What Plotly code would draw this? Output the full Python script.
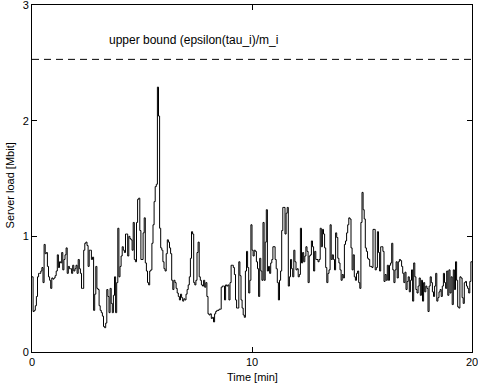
import plotly.graph_objects as go

# Server load sampled every 0.05 min (20 samples per minute), values in Mbit
load_min = [
    [0.65, 0.35, 0.36, 0.40, 0.48, 0.65, 0.68, 0.68, 0.70, 0.73, 0.60, 0.93, 0.85, 0.86, 0.74, 0.65, 0.62, 0.55, 0.64, 0.63],
    [0.64, 0.66, 0.70, 0.84, 0.73, 0.78, 0.77, 0.86, 0.71, 0.80, 0.84, 0.90, 0.68, 0.74, 0.72, 0.72, 0.68, 0.75, 0.70, 0.72],
    [0.75, 0.68, 0.80, 0.72, 0.68, 0.55, 0.55, 0.88, 0.94, 0.95, 0.92, 0.74, 0.88, 0.88, 0.80, 0.82, 0.36, 0.50, 0.74, 0.55],
    [0.54, 0.40, 0.36, 0.34, 0.31, 0.22, 0.21, 0.25, 0.54, 0.48, 0.34, 0.55, 0.42, 0.34, 0.49, 0.65, 0.34, 0.60, 1.07, 0.65],
    [0.74, 0.83, 0.91, 0.88, 0.86, 1.02, 1.02, 0.83, 1.00, 0.98, 0.97, 0.88, 1.12, 0.80, 0.78, 1.12, 1.32, 1.33, 1.05, 0.80],
    [0.80, 1.03, 1.16, 0.77, 0.70, 0.60, 0.58, 0.70, 0.71, 0.94, 1.10, 1.30, 1.43, 1.45, 2.29, 2.04, 1.07, 0.90, 0.88, 0.78],
    [0.72, 0.70, 0.85, 0.97, 0.95, 0.90, 0.85, 0.62, 0.54, 0.62, 0.60, 0.55, 0.51, 0.48, 0.45, 0.50, 0.47, 0.44, 0.46, 0.45],
    [0.50, 0.54, 0.58, 0.65, 0.81, 1.04, 1.02, 0.60, 0.58, 0.62, 0.86, 0.95, 0.65, 0.62, 0.58, 0.57, 0.62, 0.56, 0.60, 0.48],
    [0.33, 0.32, 0.33, 0.29, 0.30, 0.26, 0.33, 0.35, 0.36, 0.36, 0.37, 0.37, 0.56, 0.57, 0.57, 0.45, 0.58, 0.57, 0.58, 0.45],
    [0.60, 0.75, 0.75, 0.73, 0.67, 0.45, 0.38, 0.38, 0.78, 0.66, 0.45, 0.38, 0.32, 0.30, 0.70, 0.87, 0.73, 0.51, 0.62, 1.10],
    [0.88, 0.83, 0.88, 0.87, 0.78, 0.72, 0.48, 0.81, 0.70, 0.62, 1.12, 0.62, 0.95, 1.23, 0.70, 0.74, 0.68, 0.77, 0.80, 0.91],
    [0.91, 0.80, 0.72, 0.60, 0.45, 0.62, 0.70, 1.05, 1.25, 1.25, 1.02, 1.20, 1.25, 0.57, 0.65, 0.80, 0.72, 0.65, 0.88, 0.78],
    [0.71, 0.72, 0.65, 0.67, 1.07, 0.77, 0.86, 0.78, 0.83, 0.91, 0.87, 0.60, 0.83, 0.84, 0.96, 0.91, 0.70, 0.87, 0.80, 0.80],
    [0.78, 0.80, 1.07, 0.91, 1.06, 1.02, 0.90, 0.73, 0.60, 0.68, 0.71, 1.10, 0.80, 0.84, 0.80, 0.71, 1.03, 0.99, 0.81, 0.77],
    [0.71, 0.62, 0.67, 0.64, 0.93, 0.96, 1.03, 1.10, 1.16, 1.15, 0.90, 0.71, 0.84, 0.65, 0.62, 0.68, 0.70, 0.60, 0.55, 1.12],
    [1.38, 1.23, 1.15, 0.90, 0.87, 0.81, 0.80, 0.74, 0.74, 0.73, 1.06, 1.06, 0.71, 0.73, 1.04, 0.86, 0.70, 0.91, 0.91, 0.87],
    [0.61, 0.67, 0.62, 0.75, 0.62, 0.75, 0.77, 0.94, 0.71, 0.60, 0.71, 0.78, 0.64, 0.78, 0.80, 0.79, 0.74, 0.68, 0.60, 0.69],
    [0.54, 0.61, 0.65, 0.52, 0.62, 0.71, 0.44, 0.77, 0.65, 0.54, 0.51, 0.57, 0.64, 0.49, 0.62, 0.44, 0.60, 0.52, 0.57, 0.55],
    [0.35, 0.57, 0.65, 0.60, 0.52, 0.48, 0.57, 0.68, 0.44, 0.47, 0.52, 0.54, 0.48, 0.57, 0.68, 0.60, 0.55, 0.70, 0.49, 0.71],
    [0.51, 0.65, 0.41, 0.71, 0.54, 0.78, 0.62, 0.39, 0.38, 0.65, 0.64, 0.47, 0.42, 0.60, 0.61, 0.57, 0.55, 0.51, 0.61, 0.78],
]
sample_step = 0.05
bound_value = 2.53
bound_x = [0, 20]
bound_label = "upper bound (epsilon(tau_i)/m_i"
x_title = "Time [min]"
y_title = "Server load [Mbit]"
x_ticks = [0, 10, 20]
y_ticks = [0, 1, 2, 3]

load = [v for row in load_min for v in row]
load.append(load[-1])
time = [i * sample_step for i in range(len(load))]

fig = go.Figure()
fig.add_trace(go.Scatter(x=time, y=load, mode="lines", line=dict(color="black", width=1, shape="hv"),
                         showlegend=False, hoverinfo="skip"))
fig.add_trace(go.Scatter(x=bound_x, y=[bound_value, bound_value], mode="lines",
                         line=dict(color="black", width=1, dash="7px,5px"), showlegend=False))
fig.add_annotation(x=3.4, y=2.70, text=bound_label, showarrow=False, xanchor="left", yanchor="middle",
                   font=dict(size=12, color="black"))
# axis titles placed as paper-referenced annotations
fig.add_annotation(xref="paper", yref="paper", x=0.5, y=-0.072, text=x_title, showarrow=False,
                   xanchor="center", yanchor="middle", font=dict(size=11, color="black"))
fig.add_annotation(xref="paper", yref="paper", x=-0.05, y=0.48, text=y_title, showarrow=False,
                   textangle=-90, xanchor="center", yanchor="middle", font=dict(size=11, color="black"))

axis_common = dict(showgrid=False, zeroline=False, showline=True, linecolor="black", linewidth=1,
                   mirror="ticks", ticks="inside", ticklen=5, tickcolor="black", tickwidth=1,
                   ticklabeloverflow="allow", automargin=False,
                   tickfont=dict(size=11, color="black"))
fig.update_xaxes(range=[0, 20], tickvals=x_ticks, ticktext=[str(t) for t in x_ticks], **axis_common)
fig.update_yaxes(range=[0, 3], tickvals=y_ticks, ticktext=[str(t) for t in y_ticks], **axis_common)
fig.update_layout(width=478, height=387, margin=dict(l=32, r=6, t=5, b=35),
                  paper_bgcolor="white", plot_bgcolor="white",
                  font=dict(family="Liberation Sans, Arial, sans-serif", color="black"))
fig.write_html("out.html")
